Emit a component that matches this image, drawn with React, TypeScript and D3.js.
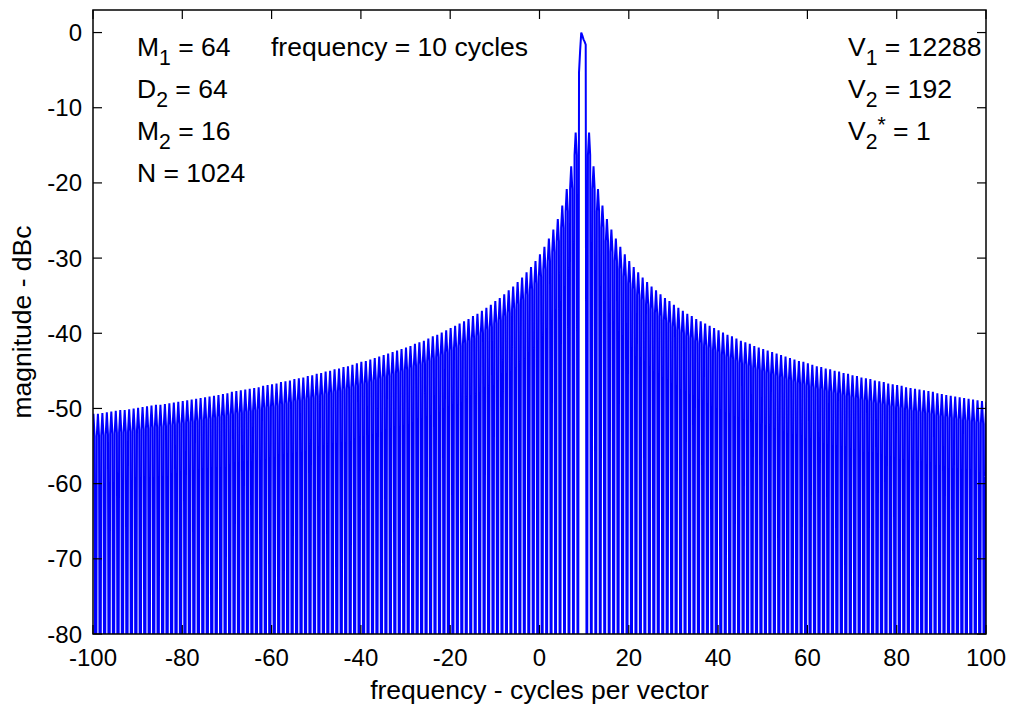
import React from "react";
import * as d3 from "d3";

// ---- data ----
const xTicks = [-100, -80, -60, -40, -20, 0, 20, 40, 60, 80, 100];
const yTicks = [0, -10, -20, -30, -40, -50, -60, -70, -80];

// null frequencies bounding the main lobe (cycles per vector)
const mainNullLeft = 8.6;
const mainNullRight = 10.6;

// main lobe samples (frequency, dBc)
const mainLobeF = [8.85, 9.1, 9.35, 9.6, 9.85, 10.1, 10.35];
const mainLobeDb = [-5.3, -2.4, 0, -0.4, -0.9, -1.2, -1.6];

// sidelobe peak levels (dBc), by lobe number counted outward from the main lobe
const sidelobePeakDb = [
  -13.3, -17.8, -20.8, -23.0, -24.8, -26.2, -27.4, -28.5, -29.5, -30.4,
  -31.2, -31.9, -32.6, -33.2, -33.8, -34.3, -34.8, -35.3, -35.7, -36.2,
  -36.6, -37.0, -37.4, -37.7, -38.1, -38.4, -38.7, -39.0, -39.3, -39.6,
  -39.9, -40.2, -40.4, -40.7, -41.0, -41.2, -41.4, -41.7, -41.9, -42.1,
  -42.3, -42.5, -42.7, -42.9, -43.1, -43.3, -43.5, -43.7, -43.8, -44.0,
  -44.2, -44.4, -44.5, -44.7, -44.8, -45.0, -45.1, -45.3, -45.4, -45.6,
  -45.7, -45.9, -46.0, -46.1, -46.3, -46.4, -46.5, -46.7, -46.8, -46.9,
  -47.0, -47.2, -47.3, -47.4, -47.5, -47.6, -47.7, -47.8, -48.0, -48.1,
  -48.2, -48.3, -48.4, -48.5, -48.6, -48.7, -48.8, -48.9, -49.0, -49.1,
  -49.2, -49.3, -49.4, -49.5, -49.5, -49.6, -49.7, -49.8, -49.9, -50.0,
  -50.1, -50.2, -50.2, -50.3, -50.4, -50.5, -50.6, -50.7, -50.7, -50.8,
];
const leftLobeCount = 110;
const rightLobeCount = 91;

// shape of one sidelobe: sample positions inside the lobe (fraction of lobe) and level relative to its peak
const lobeShapeFrac = [0.25, 0.5, 0.75];
const lobeShapeRelDb = [-3.0, 0, -3.0];
const nullDb = -120;

type Pt = { f: number; db: number };

function buildTrace(): Pt[] {
  const pts: Pt[] = [];
  for (let i = leftLobeCount - 1; i >= 0; i--) {
    const start = mainNullLeft - (i + 1);
    pts.push({ f: start, db: nullDb });
    lobeShapeFrac.forEach((fr, k) =>
      pts.push({ f: start + fr, db: sidelobePeakDb[i] + lobeShapeRelDb[k] })
    );
  }
  pts.push({ f: mainNullLeft, db: nullDb });
  mainLobeF.forEach((f, k) => pts.push({ f, db: mainLobeDb[k] }));
  for (let i = 0; i < rightLobeCount; i++) {
    const start = mainNullRight + i;
    pts.push({ f: start, db: nullDb });
    lobeShapeFrac.forEach((fr, k) =>
      pts.push({ f: start + fr, db: sidelobePeakDb[i] + lobeShapeRelDb[k] })
    );
  }
  pts.push({ f: mainNullRight + rightLobeCount, db: nullDb });
  return pts;
}

const W = 1011;
const H = 709;
const L = 93;
const R = 986;
const T = 10;
const B = 634;
const FONT = "'Liberation Sans', Arial, Helvetica, sans-serif";
const FS = 24;
const FA = 26.5;
const TICK = 9;

export default function App() {
  const x = d3.scaleLinear().domain([-100, 100]).range([L, R]);
  const y = d3.scaleLinear().domain([-80, 3]).range([B, T]);
  const trace = buildTrace();
  const line = d3
    .line<Pt>()
    .x((d) => x(d.f))
    .y((d) => y(d.db));

  const sub = (base: string, s: string, rest: string, sup?: string) => (
    <>
      {base}
      <tspan fontSize={FA * 0.8} dy={9}>
        {s}
      </tspan>
      {sup ? (
        <tspan fontSize={FA * 0.8} dy={-17}>
          {sup}
        </tspan>
      ) : null}
      <tspan dy={sup ? 8 : -9}>{rest}</tspan>
    </>
  );

  return (
    <svg
      width={W}
      height={H}
      style={{ position: "absolute", left: 0, top: 0, background: "#fff" }}
      fontFamily={FONT}
    >
      <rect x={0} y={0} width={W} height={H} fill="#fff" />
      <defs>
        <clipPath id="plot">
          <rect x={L} y={T} width={R - L} height={B - T} />
        </clipPath>
      </defs>
      <path
        d={line(trace) || ""}
        fill="none"
        stroke="#0000ff"
        strokeWidth={2}
        strokeLinejoin="miter"
        clipPath="url(#plot)"
      />
      <rect x={L} y={T} width={R - L} height={B - T} fill="none" stroke="#000" strokeWidth={1.5} />
      {xTicks.map((t) => (
        <g key={"xt" + t}>
          <line x1={x(t)} x2={x(t)} y1={B} y2={B - TICK} stroke="#000" strokeWidth={1.2} />
          <line x1={x(t)} x2={x(t)} y1={T} y2={T + TICK} stroke="#000" strokeWidth={1.2} />
          <text x={x(t)} y={657} fontSize={FS} textAnchor="middle" dominantBaseline="central">
            {t}
          </text>
        </g>
      ))}
      {yTicks.map((t) => (
        <g key={"yt" + t}>
          <line x1={L} x2={L + TICK} y1={y(t)} y2={y(t)} stroke="#000" strokeWidth={1.2} />
          <line x1={R} x2={R - TICK} y1={y(t)} y2={y(t)} stroke="#000" strokeWidth={1.2} />
          <text x={82} y={y(t)} fontSize={FS} textAnchor="end" dominantBaseline="central">
            {t}
          </text>
        </g>
      ))}
      <text x={(L + R) / 2} y={690} fontSize={FA} textAnchor="middle" dominantBaseline="central">
        frequency - cycles per vector
      </text>
      <text
        transform={`translate(22, ${(T + B) / 2}) rotate(-90)`}
        fontSize={FA}
        textAnchor="middle"
        dominantBaseline="central"
      >
        magnitude - dBc
      </text>
      <text x={137} y={56} fontSize={FA}>{sub("M", "1", " = 64")}</text>
      <text x={137} y={98} fontSize={FA}>{sub("D", "2", " = 64")}</text>
      <text x={137} y={140} fontSize={FA}>{sub("M", "2", " = 16")}</text>
      <text x={137} y={182} fontSize={FA}>N = 1024</text>
      <text x={271} y={56} fontSize={FA}>frequency = 10 cycles</text>
      <text x={848} y={56} fontSize={FA}>{sub("V", "1", " = 12288")}</text>
      <text x={848} y={98} fontSize={FA}>{sub("V", "2", " = 192")}</text>
      <text x={848} y={140} fontSize={FA}>{sub("V", "2", " = 1", "*")}</text>
    </svg>
  );
}
